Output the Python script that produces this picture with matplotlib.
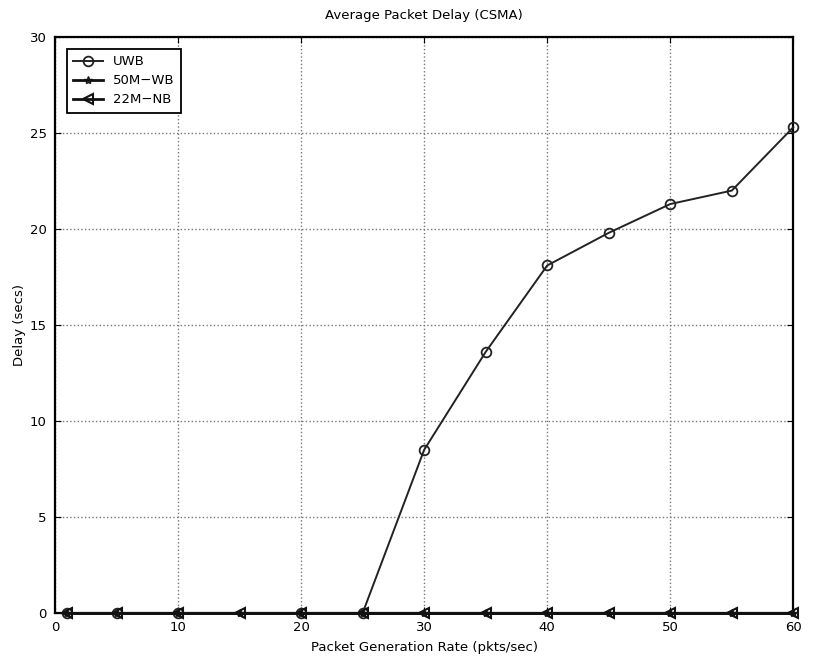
import numpy as np
import matplotlib.pyplot as plt

# packet generation rate (pkts/sec)
rate_uwb = [1, 5, 10, 20, 25, 30, 35, 40, 45, 50, 55, 60]
delay_uwb = [0, 0, 0, 0, 0, 8.5, 13.6, 18.1, 19.8, 21.3, 22.0, 25.3]

rate_nb = [1, 5, 10, 15, 20, 25, 30, 35, 40, 45, 50, 55, 60]
delay_wb = [0, 0, 0, 0, 0, 0, 0, 0, 0, 0, 0, 0, 0]
delay_nb = [0, 0, 0, 0, 0, 0, 0, 0, 0, 0, 0, 0, 0]

x_ticks = [0, 10, 20, 30, 40, 50, 60]
y_ticks = [0, 5, 10, 15, 20, 25, 30]

plt.rcParams['font.family'] = ['DejaVu Sans']
fs = 9.5

fig = plt.figure(figsize=(8.14, 6.64), dpi=100)
ax = fig.add_axes([0.0676, 0.0768, 0.9070, 0.8675])

ax.plot(rate_uwb, delay_uwb, '-o', color='#222222', lw=1.4, ms=7,
        mfc='none', mew=1.3, label='UWB', clip_on=False, zorder=4)
ax.plot(rate_nb, delay_wb, '-*', color='#111111', lw=2.0, ms=6,
        mfc='none', mew=1.0, label='50M\u2212WB', clip_on=False, zorder=4)
ax.plot(rate_nb, delay_nb, '-<', color='#111111', lw=2.0, ms=7,
        mfc='none', mew=1.5, label='22M\u2212NB', clip_on=False, zorder=4)

ax.set_xlim(0, 60)
ax.set_ylim(0, 30)
ax.set_xticks(x_ticks)
ax.set_yticks(y_ticks)
ax.tick_params(direction='in', length=4, labelsize=fs, top=True, right=True,
               pad=6)
ax.grid(True, linestyle=':', color='#777777', lw=1.0)
for s in ax.spines.values():
    s.set_linewidth(1.6)

ax.set_title('Average Packet Delay (CSMA)', fontsize=fs, pad=13)
ax.set_xlabel('Packet Generation Rate (pkts/sec)', fontsize=fs, labelpad=5)
ax.set_ylabel('Delay (secs)', fontsize=fs, labelpad=3)

leg = ax.legend(loc='upper left', fontsize=fs, handlelength=2.2,
                handletextpad=0.8, fancybox=False, edgecolor='black',
                framealpha=1, borderaxespad=0.9, labelspacing=0.45,
                borderpad=0.5)
leg.get_frame().set_linewidth(1.3)

fig.savefig('out.png', dpi=100)
